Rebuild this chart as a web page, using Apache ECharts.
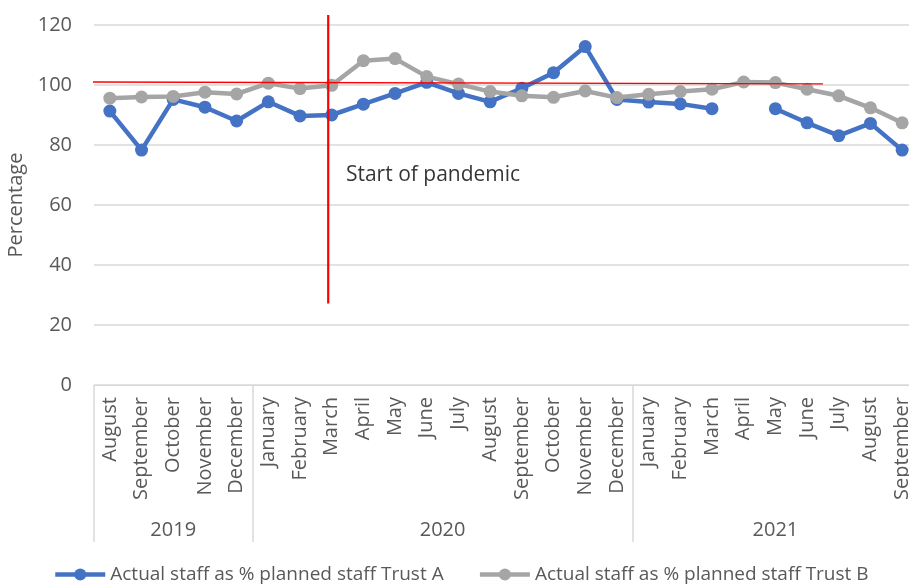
<!DOCTYPE html>
<html>
<head>
<meta charset="utf-8">
<script src="https://cdn.jsdelivr.net/npm/echarts@6/dist/echarts.min.js"></script>
<style>html,body{margin:0;padding:0;background:#fff;}#chart{width:909px;height:586px;}</style>
</head>
<body>
<div id="chart"></div>
<script>
var months = ['August','September','October','November','December',
  'January','February','March','April','May','June','July','August','September','October','November','December',
  'January','February','March','April','May','June','July','August','September'];
var years = ['2019','2020','2021'];
var yearStart = [0, 5, 17];     // month index where each year starts
var yearCentre = [2.5, 11, 21.5]; // band position of each year label
var trustA = [91.3,78.3,95.2,92.6,88.0,94.4,89.7,90.0,93.6,97.2,100.9,97.2,94.4,98.9,104.1,112.8,95.2,94.3,93.7,92.1,null,92.1,87.4,83.1,87.2,78.3];
var trustB = [95.6,96.0,96.2,97.6,97.0,100.6,98.8,99.9,108.1,108.8,102.8,100.3,97.8,96.4,95.9,98.0,95.8,96.9,97.8,98.6,101.0,100.8,98.6,96.4,92.4,87.4];
var targetLine = [[-0.09, 101.0], [23.0, 100.4]];
var pandemicLine = [[7.39, 123.3], [7.39, 27.2]];
var pandemicText = [[7.95, 70]];
var nameA = 'Actual staff as % planned staff Trust A';
var nameB = 'Actual staff as % planned staff Trust B';

var FONT = 'Open Sans';
var chart = echarts.init(document.getElementById('chart'), null, {renderer: 'canvas'});
var yearMap = {};
yearCentre.forEach(function (c, i) { yearMap[c] = years[i]; });

chart.setOption({
  animation: false,
  textStyle: {fontFamily: FONT},
  grid: {left: 94, width: 824, top: 25, height: 360, containLabel: false, outerBoundsMode: 'none'},
  legend: {
    data: [nameA, nameB],
    left: 48, bottom: -3, itemWidth: 50, itemHeight: 15, itemGap: 34,
    lineStyle: {width: 4.5},
    textStyle: {fontFamily: FONT, fontSize: 19, color: '#595959', padding: [0, 0, 0, 0]}
  },
  xAxis: [{
    type: 'category', data: months, boundaryGap: true,
    axisLine: {show: true, lineStyle: {color: '#d9d9d9', width: 1}},
    axisTick: {show: true, length: 157, lineStyle: {color: '#d9d9d9', width: 1.5},
      interval: function (idx) { return yearStart.indexOf(idx) >= 0; }},
    axisLabel: {interval: 0, rotate: 90, margin: 12, fontFamily: FONT, fontSize: 20, color: '#595959'}
  }, {
    type: 'value', min: 0, max: 26, interval: 0.5, position: 'bottom',
    axisLine: {show: false}, axisTick: {show: false}, splitLine: {show: false},
    axisLabel: {show: true, margin: 135, fontFamily: FONT, fontSize: 20, color: '#595959',
      showMinLabel: true, showMaxLabel: true,
      formatter: function (v) { return yearMap[v] || ''; }}
  }],
  yAxis: [{
    type: 'value', min: 0, max: 120, interval: 20,
    name: 'Percentage', nameLocation: 'middle', nameGap: 63,
    nameTextStyle: {fontFamily: FONT, fontSize: 20, color: '#595959'},
    axisLine: {show: false}, axisTick: {show: false},
    splitLine: {lineStyle: {color: '#d9d9d9', width: 1.5}},
    axisLabel: {margin: 22, fontFamily: FONT, fontSize: 20, color: '#595959'}
  }],
  series: [{
    name: nameA, type: 'line', data: trustA, xAxisIndex: 0, yAxisIndex: 0,
    connectNulls: false, symbol: 'circle', symbolSize: 13, z: 3,
    itemStyle: {color: '#4472C4'}, lineStyle: {color: '#4472C4', width: 4.5}
  }, {
    name: nameB, type: 'line', data: trustB, xAxisIndex: 0, yAxisIndex: 0,
    symbol: 'circle', symbolSize: 13, z: 4,
    itemStyle: {color: '#A5A5A5'}, lineStyle: {color: '#A5A5A5', width: 4.5}
  }, {
    name: 'target', type: 'line', data: targetLine, xAxisIndex: 1, yAxisIndex: 0,
    symbol: 'none', clip: false, silent: true, z: 6,
    lineStyle: {color: '#FF0000', width: 1.3}
  }, {
    name: 'pandemic', type: 'line', data: pandemicLine, xAxisIndex: 1, yAxisIndex: 0,
    symbol: 'none', clip: false, silent: true, z: 6,
    lineStyle: {color: '#FF0000', width: 2.2}
  }, {
    name: 'pandemicText', type: 'scatter', data: pandemicText, xAxisIndex: 1, yAxisIndex: 0,
    symbolSize: 0, silent: true, z: 7,
    label: {show: true, position: 'right', distance: 0, formatter: 'Start of pandemic',
      fontFamily: FONT, fontSize: 21, color: '#000000'}
  }]
});
</script>
</body>
</html>
